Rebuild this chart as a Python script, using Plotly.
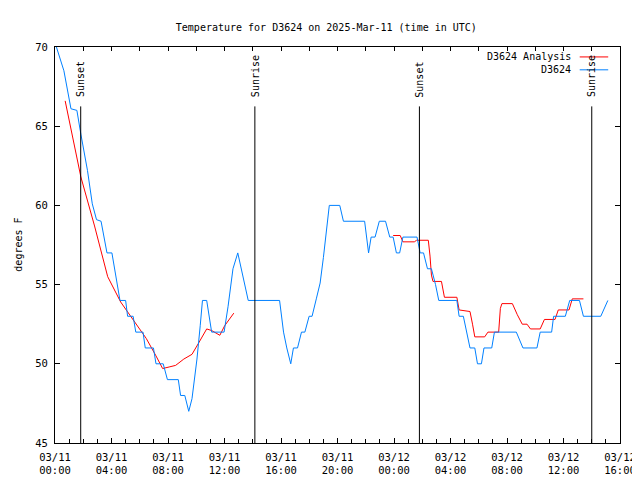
import pandas as pd
import plotly.graph_objects as go

START = pd.Timestamp("2025-03-11 00:00")

# Observations (hours after start, deg F)
obs_hours = [0.1, 0.63, 1.13, 1.55, 1.83, 2.3, 2.64, 2.94, 3.26, 3.68, 4.03, 4.6, 5.0, 5.14, 5.53,
             5.72, 6.23, 6.39, 6.97, 7.15, 7.66, 7.96, 8.73, 8.89, 9.19, 9.47, 9.7, 10.05, 10.28,
             10.44, 10.74, 11.09, 11.2, 11.97, 12.25, 12.6, 12.94, 13.4, 13.68, 15.9, 16.18, 16.41,
             16.69, 16.88, 17.17, 17.45, 17.69, 17.99, 18.2, 18.5, 18.77, 19.0, 19.24, 19.42, 20.16,
             20.42, 21.92, 22.08, 22.2, 22.38, 22.66, 22.96, 23.4, 23.7, 23.94, 24.17, 24.4, 24.63,
             25.63, 25.85, 26.09, 26.37, 26.65, 26.94, 27.17, 28.45, 28.61, 28.91, 29.15, 29.38,
             29.72, 29.91, 30.19, 30.37, 30.92, 31.11, 32.66, 33.13, 34.12, 34.35, 35.16, 35.3,
             36.13, 36.44, 37.13, 37.41, 38.64, 39.14]
obs_temp = [70.0, 68.5, 66.1, 66.0, 64.5, 62.2, 60.1, 59.1, 59.0, 57.0, 57.0, 54.0, 54.0, 53.0, 53.0,
            52.0, 52.0, 51.0, 51.0, 50.0, 50.0, 49.0, 49.0, 48.0, 48.0, 47.0, 47.8, 50.3, 52.4,
            54.0, 54.0, 52.0, 52.0, 52.0, 53.6, 56.0, 57.0, 55.1, 54.0, 54.0, 52.0, 51.0,
            50.0, 51.0, 51.0, 52.0, 52.0, 53.0, 53.0, 54.1, 55.1, 56.7, 58.5, 60.0, 60.0,
            59.0, 59.0, 58.0, 57.0, 58.0, 58.0, 59.0, 59.0, 58.0, 58.0, 57.0, 57.0, 58.0,
            58.0, 57.0, 57.0, 56.0, 56.0, 55.0, 54.0, 54.0, 53.0, 53.0, 52.0, 51.0,
            51.0, 50.0, 50.0, 51.0, 51.0, 52.0, 52.0, 51.0, 51.0, 52.0, 52.0, 53.0,
            53.0, 54.0, 54.0, 53.0, 53.0, 54.0]

# Analysis (two segments, gap between)
ana_hours = [0.72, 1.83, 2.8, 3.22, 3.73, 4.65, 5.53, 6.46, 7.15, 7.62, 8.08, 8.54, 9.12, 9.7, 10.16,
             10.74, 11.09, 11.67, 12.01, 12.66, None,
             23.94, 24.44, 24.63, 25.44, 25.6, 26.43, 26.55, 26.65, 26.76, 27.36, 27.57, 28.45, 28.61,
             29.38, 29.56, 29.72, 30.42, 30.65, 31.41, 31.53, 31.64, 32.38, 32.73, 33.08, 33.42, 33.66,
             34.35, 34.65, 35.4, 35.63, 36.39, 36.62, 37.41]
ana_temp = [66.6, 61.8, 58.7, 57.2, 55.5, 53.9, 52.8, 51.6, 50.5, 49.7, 49.8, 49.9, 50.3, 50.6, 51.3,
            52.2, 52.1, 51.8, 52.4, 53.2, None,
            58.1, 58.1, 57.7, 57.7, 57.8, 57.8, 56.8, 55.6, 55.2, 55.2, 54.2, 54.2, 53.4,
            53.3, 52.5, 51.7, 51.7, 52.0, 52.0, 53.5, 53.8, 53.8, 53.1, 52.5, 52.5, 52.2,
            52.2, 52.8, 52.8, 53.4, 53.4, 54.1, 54.1]

# Sun events (hours after start)
event_hours = [1.82, 14.15, 25.8, 38.0]
event_labels = ["Sunset", "Sunrise", "Sunset", "Sunrise"]

x_start = "2025-03-11 00:00"
x_end = "2025-03-12 16:00"
y_min, y_max = 45, 70


def to_time(hs):
    return [None if h is None else START + pd.Timedelta(hours=h) for h in hs]


FONT = "DejaVu Sans Mono"
FS = 10
BLUE = "#0080ff"
RED = "#ff0000"

fig = go.Figure()
fig.add_trace(go.Scatter(x=to_time(ana_hours), y=ana_temp, mode="lines", name="D3624 Analysis",
                         line=dict(color=RED, width=1), connectgaps=False, showlegend=False))
fig.add_trace(go.Scatter(x=to_time(obs_hours), y=obs_temp, mode="lines", name="D3624",
                         line=dict(color=BLUE, width=1), showlegend=False))
fig.add_trace(go.Scatter(x=[], y=[], xaxis="x2", showlegend=False))

for h, lab in zip(event_hours, event_labels):
    t = START + pd.Timedelta(hours=h)
    fig.add_shape(type="line", x0=t, x1=t, y0=y_min, y1=66.25, xref="x", yref="y",
                  line=dict(color="black", width=1))
    fig.add_annotation(x=t, y=66.7, xref="x", yref="y", text=lab, textangle=-90, showarrow=False,
                       xanchor="center", yanchor="bottom", font=dict(family=FONT, size=FS, color="black"))

# legend drawn gnuplot-style (text, then sample)
L, R, T, B = 47, 622, 39, 438
W, H = R - L, B - T
def px(xp):
    return (xp - L) / W
def py(yp):
    return (B - yp) / H

for name, col, yy in [("D3624 Analysis", RED, 49), ("D3624", BLUE, 62)]:
    fig.add_annotation(x=px(574), y=py(yy), xref="paper", yref="paper", text=name, showarrow=False,
                       xanchor="right", yanchor="middle", font=dict(family=FONT, size=FS, color="black"))
    fig.add_shape(type="line", x0=px(581), x1=px(610), y0=py(yy), y1=py(yy), xref="paper", yref="paper",
                  line=dict(color=col, width=1))

fig.add_annotation(x=px(9), y=0.5, xref="paper", yref="paper", text="degrees F", textangle=-90,
                   showarrow=False, xanchor="center", yanchor="middle",
                   font=dict(family=FONT, size=FS, color="black"))

fig.update_layout(
    width=640, height=480,
    margin=dict(l=L, r=640 - R, t=T, b=480 - B),
    paper_bgcolor="white", plot_bgcolor="white",
    title=dict(text="Temperature for D3624 on 2025-Mar-11 (time in UTC)", x=px(333), xanchor="center",
               y=1 - 19 / 480, yanchor="middle", font=dict(family=FONT, size=FS, color="black")),
    font=dict(family=FONT, size=FS, color="black"),
    xaxis=dict(type="date", range=[x_start, x_end], dtick=4 * 3600 * 1000, tick0=x_start,
               tickformat="%m/%d<br>%H:%M", ticks="inside", ticklen=5, tickcolor="black",
               showline=True, linecolor="black", linewidth=1, mirror=True, showgrid=False,
               zeroline=False, ticklabelstandoff=4,
               minor=dict(dtick=3600 * 1000, ticks="inside", ticklen=4, tickcolor="black",
                          showgrid=False),
               tickfont=dict(family=FONT, size=10.5, color="black")),
    xaxis2=dict(type="date", range=[x_start, x_end], overlaying="x", side="top", matches="x",
                dtick=2 * 3600 * 1000, tick0=x_start, ticks="inside", ticklen=4, tickcolor="black",
                showticklabels=False, showgrid=False, zeroline=False, showline=False),
    yaxis=dict(range=[y_min, y_max], dtick=5, ticks="inside", ticklen=5, tickcolor="black",
               showline=True, linecolor="black", linewidth=1, mirror="ticks", showgrid=False,
               zeroline=False, ticklabelstandoff=4, tickfont=dict(family=FONT, size=10.5, color="black")),
)

fig.write_html("out.html")
